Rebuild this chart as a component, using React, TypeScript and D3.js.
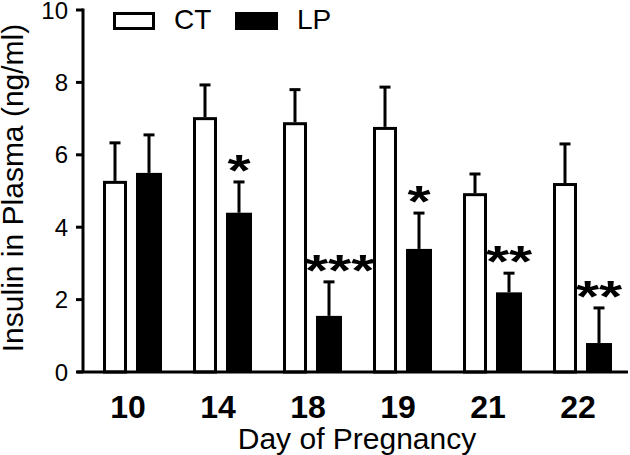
import React from "react";
import * as d3 from "d3";

const days = ["10", "14", "18", "19", "21", "22"];
const ctMean = [5.28, 7.04, 6.9, 6.77, 4.94, 5.22];
const ctSem = [1.05, 0.89, 0.9, 1.1, 0.53, 1.08];
const lpMean = [5.5, 4.4, 1.55, 3.4, 2.2, 0.8];
const lpSem = [1.05, 0.85, 0.94, 0.99, 0.53, 0.97];
const lpSignif = ["", "*", "***", "*", "**", "**"];
const yTicks = [0, 2, 4, 6, 8, 10];
const seriesNames = ["CT", "LP"];

const W = 630;
const H = 455;
const FONT = "'Liberation Sans', Arial, sans-serif";

export default function App() {
  const y = d3.scaleLinear().domain([0, 10]).range([372, 10]);
  const x = d3.scaleBand<string>().domain(days).range([88, 628]);
  const ctOff = 15;
  const ctW = 24;
  const lpOff = 48;
  const lpW = 26;
  const axisX = 83;
  const y0 = y(0);

  const errBar = (cx: number, m: number, s: number, key: string) => (
    <g key={key} stroke="#000" strokeWidth={3}>
      <line x1={cx} x2={cx} y1={y(m)} y2={y(m + s)} />
      <line x1={cx - 5.5} x2={cx + 5.5} y1={y(m + s)} y2={y(m + s)} />
    </g>
  );

  const starFs = 44;
  const starScale = 1.35;
  const starAdv = 0.389 * starFs * starScale;

  return (
    <svg
      width={W}
      height={H}
      style={{ position: "absolute", left: 0, top: 0, background: "#fff" }}
      fontFamily={FONT}
    >
      <rect x={0} y={0} width={W} height={H} fill="#fff" />
      {days.map((d, i) => {
        const x0 = x(d)!;
        const ctX = x0 + ctOff;
        const lpX = x0 + lpOff;
        return (
          <g key={d}>
            {errBar(ctX + ctW / 2, ctMean[i], ctSem[i], "ce" + d)}
            {errBar(lpX + lpW / 2, lpMean[i], lpSem[i], "le" + d)}
            <rect
              x={ctX + 1.5}
              y={y(ctMean[i]) + 1.5}
              width={ctW - 3}
              height={y0 - y(ctMean[i]) - 1.5}
              fill="#fff"
              stroke="#000"
              strokeWidth={3}
            />
            <rect
              x={lpX}
              y={y(lpMean[i])}
              width={lpW}
              height={y0 - y(lpMean[i])}
              fill="#000"
            />
          </g>
        );
      })}
      {days.map((d, i) => {
        const s = lpSignif[i];
        if (!s) return null;
        const x0 = x(d)!;
        const w = s.length * starAdv;
        const lpC = x0 + lpOff + lpW / 2;
        const minC = x0 + ctOff + ctW + w / 2 - 2;
        const cx = Math.max(lpC, minC);
        const ty = y(lpMean[i] + lpSem[i]) + 4;
        return (
          <text
            key={"s" + d}
            transform={`translate(${cx},${ty}) scale(${starScale},1)`}
            textAnchor="middle"
            fontSize={starFs}
            fontWeight="bold"
            fill="#000"
          >
            {s}
          </text>
        );
      })}
      <line x1={axisX} x2={axisX} y1={y(10) - 1.5} y2={y0} stroke="#000" strokeWidth={3} />
      <line x1={77} x2={628} y1={y0} y2={y0} stroke="#000" strokeWidth={3} />
      {yTicks.map((t) => (
        <g key={"t" + t}>
          <line x1={76} x2={axisX} y1={y(t)} y2={y(t)} stroke="#000" strokeWidth={3} />
          <text
            x={68}
            y={y(t)}
            dy="0.36em"
            textAnchor="end"
            fontSize={24}
            fill="#000"
          >
            {t}
          </text>
        </g>
      ))}
      {days.map((d) => (
        <text
          key={"xl" + d}
          x={x(d)! + x.bandwidth() / 2 - 5}
          y={418}
          textAnchor="middle"
          fontSize={32}
          fontWeight="bold"
          fill="#000"
        >
          {d}
        </text>
      ))}
      <text x={357} y={449} textAnchor="middle" fontSize={30} fill="#000">
        Day of Pregnancy
      </text>
      <text
        transform={`translate(23,188) rotate(-90)`}
        textAnchor="middle"
        fontSize={30}
        fill="#000"
      >
        Insulin in Plasma (ng/ml)
      </text>
      <rect x={114.5} y={13.5} width={39} height={15} fill="#fff" stroke="#000" strokeWidth={3} />
      <text x={174} y={29} fontSize={28} fill="#000">
        {seriesNames[0]}
      </text>
      <rect x={235} y={12} width={43} height={18} fill="#000" />
      <text x={297} y={29} fontSize={28} fill="#000">
        {seriesNames[1]}
      </text>
    </svg>
  );
}
